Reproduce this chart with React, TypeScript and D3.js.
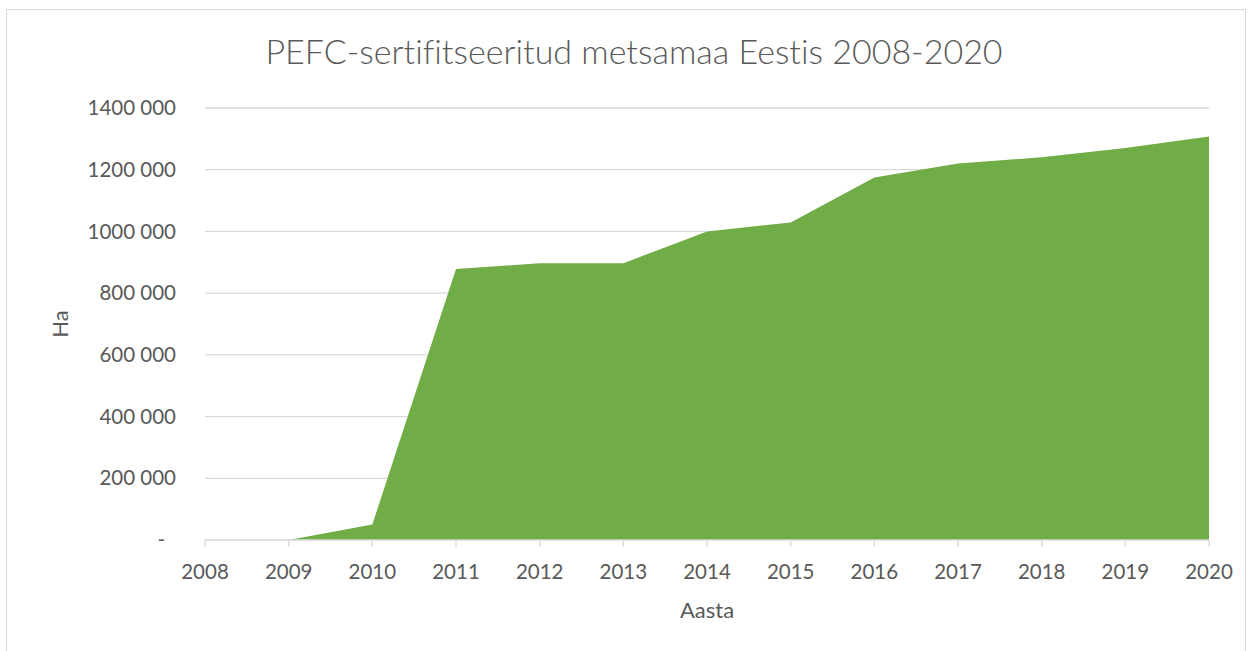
import React from "react";
import * as d3 from "d3";

const years = [2008, 2009, 2010, 2011, 2012, 2013, 2014, 2015, 2016, 2017, 2018, 2019, 2020];
const values = [0, 0, 50000, 878000, 897000, 897000, 1000000, 1029000, 1175000, 1220000, 1240000, 1270000, 1308000];
const yTicks = [0, 200000, 400000, 600000, 800000, 1000000, 1200000, 1400000];
const title = "PEFC-sertifitseeritud metsamaa Eestis 2008-2020";
const xTitle = "Aasta";
const yTitle = "Ha";

const W = 1252, H = 651;
const left = 205, right = 1209, top = 108, bottom = 540;
const font = "Lato, 'Open Sans', sans-serif";
const textColor = "#595959";

function fmt(v: number) {
  if (v === 0) return "-";
  return String(Math.floor(v / 1000)) + " 000";
}

export default function App() {
  const x = d3.scalePoint<number>().domain(years).range([left, right]);
  const y = d3.scaleLinear().domain([0, 1400000]).range([bottom, top]);
  const area = d3.area<number>()
    .x((_, i) => x(years[i]) as number)
    .y0(y(0))
    .y1((d) => y(d));
  return (
    <svg width={W} height={H} style={{ position: "absolute", left: 0, top: 0, background: "#fff", fontVariantLigatures: "none" }}>
      <rect x={6.5} y={9.5} width={1239} height={660} fill="#fff" stroke="#d9d9d9" strokeWidth={1} />
      <text x={634} y={52} dy="0.35em" textAnchor="middle" fontFamily={font} fontSize={34} fill={textColor} fontWeight={300}>{title}</text>
      {yTicks.map((t) => (
        <g key={t}>
          {t > 0 && <line x1={left} x2={right} y1={y(t)} y2={y(t)} stroke="#d9d9d9" strokeWidth={1.3} />}
          <text x={t === 0 ? 165 : 176} y={y(t)} dy="0.35em" textAnchor="end" fontFamily={font} fontSize={20.5} fill={textColor}>{fmt(t)}</text>
        </g>
      ))}
      <path d={area(values) || ""} fill="#70ad47" />
      <line x1={left} x2={right} y1={bottom} y2={bottom} stroke="#d9d9d9" strokeWidth={1.3} />
      {years.map((yr) => (
        <g key={yr}>
          <line x1={x(yr)} x2={x(yr)} y1={bottom} y2={bottom + 7} stroke="#d9d9d9" strokeWidth={1.3} />
          <text x={x(yr)} y={572} dy="0.35em" textAnchor="middle" fontFamily={font} fontSize={20.5} fill={textColor}>{yr}</text>
        </g>
      ))}
      <text x={707} y={610} dy="0.35em" textAnchor="middle" fontFamily={font} fontSize={22} fill={textColor}>{xTitle}</text>
      <text transform={`translate(60,324) rotate(-90)`} dy="0.35em" textAnchor="middle" fontFamily={font} fontSize={22} fill={textColor}>{yTitle}</text>
    </svg>
  );
}
